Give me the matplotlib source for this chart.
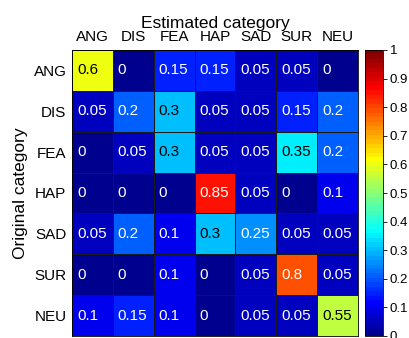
#!/usr/bin/env python3
import matplotlib
matplotlib.use("Agg")
import matplotlib.pyplot as plt
from matplotlib.colors import ListedColormap, Normalize
from matplotlib.cm import ScalarMappable
import numpy as np

# 類別標籤
categories = ["ANG", "DIS", "FEA", "HAP", "SAD", "SUR", "NEU"]

# rows = original category, columns = estimated category
conf_rows = [
    [0.6, 0, 0.15, 0.15, 0.05, 0.05, 0],
    [0.05, 0.2, 0.3, 0.05, 0.05, 0.15, 0.2],
    [0, 0.05, 0.3, 0.05, 0.05, 0.35, 0.2],
    [0, 0, 0, 0.85, 0.05, 0, 0.1],
    [0.05, 0.2, 0.1, 0.3, 0.25, 0.05, 0.05],
    [0, 0, 0.1, 0, 0.05, 0.8, 0.05],
    [0.1, 0.15, 0.1, 0, 0.05, 0.05, 0.55],
]
cbar_ticks = [0, 0.1, 0.2, 0.3, 0.4, 0.5, 0.6, 0.7, 0.8, 0.9, 1]


def matlab_jet(m=64):
    """MATLAB 風格的 jet colormap（與 matplotlib 的 jet 略有不同）"""
    n = int(np.ceil(m / 4))
    u = np.concatenate([np.arange(1, n + 1) / n, np.ones(n - 1),
                        np.arange(n, 0, -1) / n])
    g = int(np.ceil(n / 2)) - (1 if m % 4 == 1 else 0) + np.arange(1, len(u) + 1)
    r = g + n
    b = g - n
    g = g[g <= m]
    r = r[r <= m]
    b = b[b >= 1]
    J = np.zeros((m, 3))
    J[r - 1, 0] = u[:len(r)]
    J[g - 1, 1] = u[:len(g)]
    J[b - 1, 2] = u[len(u) - len(b):]
    return ListedColormap(J)


plt.rcParams["font.family"] = ["Liberation Sans", "DejaVu Sans"]

W, H = 409, 338
fig = plt.figure(figsize=(W / 100, H / 100), dpi=100)

# 以像素定位
ax = fig.add_axes([72 / W, 2 / H, 286 / W, 286 / H])
cax = fig.add_axes([365 / W, 2 / H, 18 / W, 286 / H])

M = 64
cmap = matlab_jet(M)
data = np.array(conf_rows)
n = len(categories)
# 四捨五入對應色階索引：index = round(v * (M - 1))
half = 0.5 / (M - 1)
ax.pcolormesh(np.arange(n + 1), np.arange(n + 1), data, cmap=cmap,
              norm=Normalize(-half, 1 + half),
              edgecolor="#1a1a1a", linewidth=0.6)
ax.set_xlim(0, n)
ax.set_ylim(n, 0)

for i in range(n):
    for j in range(n):
        v = data[i, j]
        color = "black" if 0.28 <= v <= 0.65 else "white"
        ax.text(j + 0.12, i + 0.5, f"{v:g}", ha="left", va="center",
                fontsize=11, color=color)

ax.xaxis.tick_top()
ax.set_xticks(np.arange(n) + 0.5)
ax.set_xticklabels(categories, fontsize=11)
ax.set_yticks(np.arange(n) + 0.5)
ax.set_yticklabels(categories, fontsize=11)
ax.tick_params(length=0, pad=4)
ax.xaxis.set_label_position("top")
ax.set_xlabel("Estimated category", fontsize=12.5, labelpad=2)
ax.set_ylabel("Original category", fontsize=12.5, labelpad=4)
for s in ax.spines.values():
    s.set_linewidth(0.6)

sm = ScalarMappable(norm=Normalize(0, 1), cmap=cmap)
cb = fig.colorbar(sm, cax=cax, ticks=cbar_ticks)
cb.ax.set_yticklabels([f"{t:g}" for t in cbar_ticks], fontsize=9.5)
cb.ax.tick_params(length=3, width=0.6, pad=2)
cb.outline.set_linewidth(0.6)

plt.savefig("out.png", dpi=100)
